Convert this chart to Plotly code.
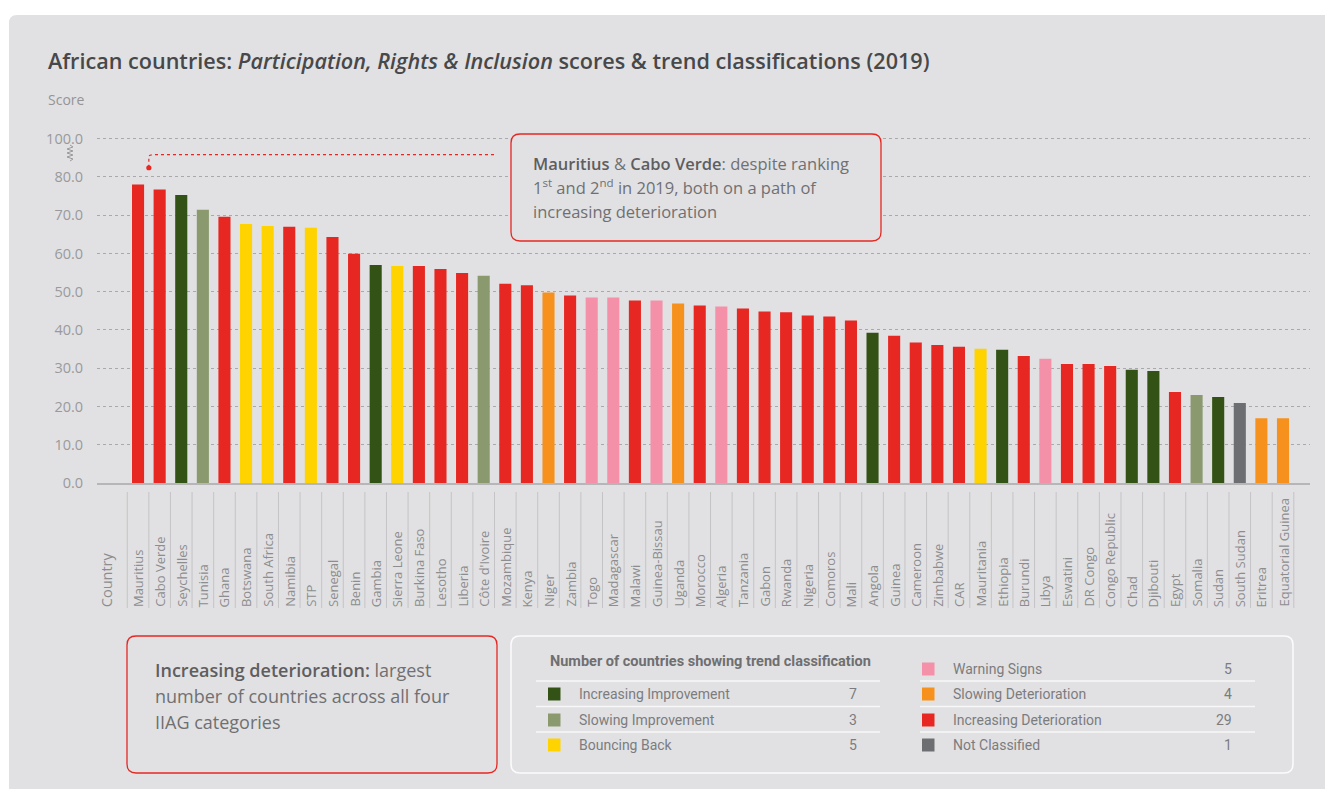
import plotly.graph_objects as go

# ---------------- data ----------------
countries = ["Mauritius", "Cabo Verde", "Seychelles", "Tunisia", "Ghana", "Botswana",
             "South Africa", "Namibia", "STP", "Senegal", "Benin", "Gambia",
             "Sierra Leone", "Burkina Faso", "Lesotho", "Liberia", "Côte d'Ivoire",
             "Mozambique", "Kenya", "Niger", "Zambia", "Togo", "Madagascar", "Malawi",
             "Guinea-Bissau", "Uganda", "Morocco", "Algeria", "Tanzania", "Gabon",
             "Rwanda", "Nigeria", "Comoros", "Mali", "Angola", "Guinea", "Cameroon",
             "Zimbabwe", "CAR", "Mauritania", "Ethiopia", "Burundi", "Libya",
             "Eswatini", "DR Congo", "Congo Republic", "Chad", "Djibouti", "Egypt",
             "Somalia", "Sudan", "South Sudan", "Eritrea", "Equatorial Guinea"]

scores = [78.0, 76.7, 75.3, 71.4, 69.6, 67.7, 67.2, 67.0, 66.7, 64.3, 59.9, 57.0,
          56.7, 56.7, 55.9, 54.9, 54.2, 52.1, 51.7, 49.8, 49.0, 48.5, 48.5, 47.7,
          47.7, 46.9, 46.4, 46.1, 45.6, 44.8, 44.6, 43.8, 43.5, 42.5, 39.3, 38.5,
          36.7, 36.1, 35.6, 35.1, 34.8, 33.2, 32.5, 31.1, 31.1, 30.6, 29.6, 29.3,
          23.8, 23.0, 22.5, 20.9, 16.9, 16.9]

ID, II, SI, BB, WS, SD, NC = ("Increasing Deterioration", "Increasing Improvement",
                              "Slowing Improvement", "Bouncing Back", "Warning Signs",
                              "Slowing Deterioration", "Not Classified")

trend = [ID, ID, II, SI, ID, BB, BB, ID, BB, ID, ID, II, BB, ID, ID, ID, SI, ID, ID, SD,
         ID, WS, WS, ID, WS, SD, ID, WS, ID, ID, ID, ID, ID, ID, II, ID, ID, ID, ID, BB,
         II, ID, WS, ID, ID, ID, II, II, ID, SI, II, NC, SD, SD]

legend_left = [II, SI, BB]
legend_left_counts = [7, 3, 5]
legend_right = [WS, SD, ID, NC]
legend_right_counts = [5, 4, 29, 1]

y_tickvals = [0, 10, 20, 30, 40, 50, 60, 70, 80, 90]
y_ticktext = ["0.0", "10.0", "20.0", "30.0", "40.0", "50.0", "60.0", "70.0", "80.0", "100.0"]

palette = {
    II: "#335316",
    SI: "#8a9a6e",
    BB: "#fed300",
    WS: "#f590a9",
    SD: "#f7911e",
    ID: "#e62722",
    NC: "#6d6e71",
}

# ---------------- layout geometry (pixels) ----------------
FW, FH = 1325, 789
L, T, W, H = 97, 131, 1213, 352
BG = "#e1e1e3"
RED = "#e62722"
FONT = "'Open Sans', Lato, sans-serif"
LEGFONT = "Roboto, 'Open Sans', sans-serif"


def fx(px):
    return (px - L) / W


def fy(py):
    return (T + H - py) / H


def rrect(x0, y0, x1, y1, r):
    pts = [
        ("M", [(x0 + r, y0)]), ("L", [(x1 - r, y0)]), ("Q", [(x1, y0), (x1, y0 + r)]),
        ("L", [(x1, y1 - r)]), ("Q", [(x1, y1), (x1 - r, y1)]), ("L", [(x0 + r, y1)]),
        ("Q", [(x0, y1), (x0, y1 - r)]), ("L", [(x0, y0 + r)]), ("Q", [(x0, y0), (x0 + r, y0)]),
    ]
    s = ""
    for cmd, pp in pts:
        s += cmd + " " + " ".join(f"{fx(a):.5f},{fy(b):.5f}" for a, b in pp) + " "
    return s + "Z"


fig = go.Figure()
fig.add_trace(go.Bar(
    x=countries, y=scores,
    marker=dict(color=[palette[t] for t in trend], line=dict(width=0)),
    hovertemplate="%{x}: %{y:.1f}<extra></extra>",
    showlegend=False,
))

shapes = []
annotations = []

# background panel
shapes.append(dict(type="path", xref="paper", yref="paper", path=rrect(9, 15, 1345, 810, 8),
                   fillcolor=BG, line=dict(width=0), layer="below"))

# category separators below the axis + country labels
n = len(countries)
for i in range(-1, n):
    shapes.append(dict(type="line", xref="x", yref="paper", x0=i + 0.5, x1=i + 0.5,
                       y0=fy(492), y1=fy(608), line=dict(color="#c4c4c6", width=1)))
for i, c in enumerate(countries):
    annotations.append(dict(x=i, y=fy(609), xref="x", yref="paper", text=c, textangle=-90,
                            showarrow=False, xanchor="center", yanchor="bottom",
                            font=dict(family=FONT, size=13, color="#8d8d8f")))
annotations.append(dict(x=-1.45, y=fy(609), xref="x", yref="paper", text="Country",
                        textangle=-90, showarrow=False, xanchor="center", yanchor="bottom",
                        font=dict(family=FONT, size=14.5, color="#8d8d8f")))

# axis break symbol
zz = "M " + " L ".join(f"{fx(70 + (3 if k % 2 else -3) * (0 if k in (0, 8) else 1)):.5f},{fy(145 + 2 * k):.5f}"
                       for k in range(9))
shapes.append(dict(type="path", xref="paper", yref="paper", path=zz,
                   line=dict(color="#9a9a9c", width=1)))

# callout connector (Mauritius & Cabo Verde)
shapes.append(dict(type="path", xref="x", yref="y",
                   path="M 0.5,82.4 L 0.5,85.3 Q 0.5,85.8 0.7,85.8 L 16.6,85.8",
                   line=dict(color=RED, width=1.2, dash="dot")))
shapes.append(dict(type="circle", xref="x", yref="y", xsizemode="pixel", ysizemode="pixel",
                   xanchor=0.5, yanchor=82.4, x0=-2.6, x1=2.6, y0=-2.6, y1=2.6,
                   fillcolor=RED, line=dict(width=0)))

# callout boxes
shapes.append(dict(type="path", xref="paper", yref="paper", path=rrect(511, 134, 881, 241, 9),
                   fillcolor=BG, line=dict(color=RED, width=1.3), layer="above"))
shapes.append(dict(type="path", xref="paper", yref="paper", path=rrect(127, 636, 497, 773, 9),
                   fillcolor=BG, line=dict(color=RED, width=1.3), layer="above"))
shapes.append(dict(type="path", xref="paper", yref="paper", path=rrect(511, 636, 1293, 773, 9),
                   fillcolor=BG, line=dict(color="#fbfbfb", width=1.6), layer="above"))

TXT = "#707072"
BTXT = "#5e5e60"
SB = "<span style='font-weight:600;color:%s'>%s</span>"
call1 = [SB % (BTXT, "Mauritius") + " & " + SB % (BTXT, "Cabo Verde") + ": despite ranking",
         "1<sup>st</sup> and 2<sup>nd</sup> in 2019, both on a path of",
         "increasing deterioration"]
for k, line in enumerate(call1):
    annotations.append(dict(x=fx(531), y=fy(163 + 24 * k), xref="paper", yref="paper",
                            text=line, showarrow=False, xanchor="left", yanchor="middle",
                            font=dict(family=FONT, size=16.5, color=TXT)))
call2 = [SB % (BTXT, "Increasing deterioration:") + " largest",
         "number of countries across all four",
         "IIAG categories"]
for k, line in enumerate(call2):
    annotations.append(dict(x=fx(153), y=fy(670 + 26 * k), xref="paper", yref="paper",
                            text=line, showarrow=False, xanchor="left", yanchor="middle",
                            font=dict(family=FONT, size=18, color=TXT)))

# legend (built from legend lists)
annotations.append(dict(x=fx(548), y=fy(661), xref="paper", yref="paper",
                        text="<b>Number of countries showing trend classification</b>",
                        showarrow=False, xanchor="left", yanchor="middle",
                        font=dict(family=LEGFONT, size=14.5, color="#6f6f71")))


def legend_column(names, counts, rows_y, sq_x, lab_x, cnt_x, line_x0, line_x1, lines_y):
    for name, cnt, yy in zip(names, counts, rows_y):
        shapes.append(dict(type="rect", xref="paper", yref="paper",
                           x0=fx(sq_x), x1=fx(sq_x + 12.5), y0=fy(yy - 6.5), y1=fy(yy + 6.5),
                           fillcolor=palette[name], line=dict(width=0), layer="above"))
        annotations.append(dict(x=fx(lab_x), y=fy(yy), xref="paper", yref="paper", text=name,
                                showarrow=False, xanchor="left", yanchor="middle",
                                font=dict(family=LEGFONT, size=14, color="#7c7c7e")))
        annotations.append(dict(x=fx(cnt_x), y=fy(yy), xref="paper", yref="paper", text=str(cnt),
                                showarrow=False, xanchor="right", yanchor="middle",
                                font=dict(family=LEGFONT, size=14, color="#7c7c7e")))
    for ly in lines_y:
        shapes.append(dict(type="line", xref="paper", yref="paper", x0=fx(line_x0), x1=fx(line_x1),
                           y0=fy(ly), y1=fy(ly), line=dict(color="#f7f7f8", width=1.5), layer="above"))


legend_column(legend_left, legend_left_counts, [694, 720, 745], 548, 577, 859, 536, 880,
              [681, 706.5, 732])
legend_column(legend_right, legend_right_counts, [669, 694, 720, 745], 922, 951, 1234, 920, 1255,
              [681, 706.5, 732])

# title & y axis label
annotations.append(dict(x=fx(46), y=fy(60), xref="paper", yref="paper",
                        text="African countries: <i>Participation, Rights & Inclusion</i> scores & trend classifications (2019)",
                        showarrow=False, xanchor="left", yanchor="middle",
                        font=dict(family=FONT, size=21.6, color="#48484a", weight=600)))
annotations.append(dict(x=fx(46), y=fy(100), xref="paper", yref="paper", text="Score",
                        showarrow=False, xanchor="left", yanchor="middle",
                        font=dict(family=FONT, size=14, color="#949496")))

fig.update_layout(
    width=FW, height=FH,
    margin=dict(l=L, r=FW - L - W, t=T, b=FH - T - H, pad=0),
    paper_bgcolor="white",
    plot_bgcolor="rgba(0,0,0,0)",
    bargap=0.44,
    shapes=shapes,
    annotations=annotations,
    xaxis=dict(type="category", range=[-1.9, n + 0.25], showticklabels=False, ticks="",
               showgrid=False, zeroline=False, showline=True, linecolor="#b6b6b8", linewidth=2,
               fixedrange=True),
    yaxis=dict(range=[0, 92], tickvals=y_tickvals, ticktext=y_ticktext,
               tickfont=dict(family=FONT, size=14.5, color="#9a9a9c"),
               ticks="outside", ticklen=10, tickcolor="rgba(0,0,0,0)",
               showgrid=True, gridcolor="#a9a9ab", gridwidth=1, griddash="dot",
               zeroline=False, showline=False, fixedrange=True),
    font=dict(family=FONT),
)

fig.write_html("out.html", config={"displayModeBar": False},
               post_script="document.body.style.margin='0';document.body.style.overflow='hidden';")
